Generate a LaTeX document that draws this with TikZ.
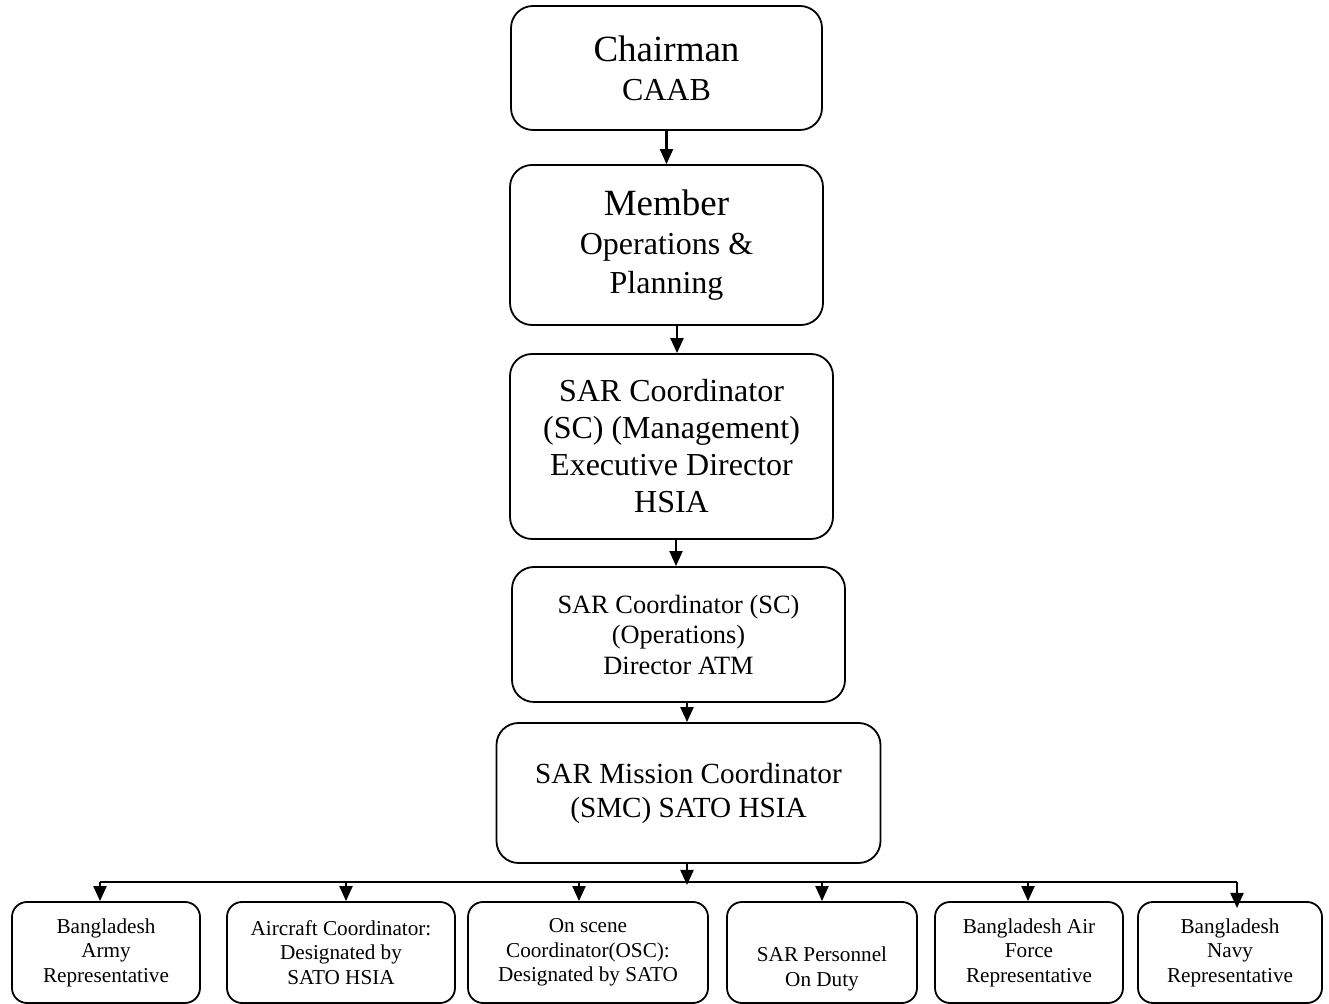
\documentclass[tikz,border=0pt]{standalone}
\usepackage{fontspec}
\setmainfont{Liberation Serif}
\usetikzlibrary{arrows.meta}
\usetikzlibrary{positioning}

\begin{document}
\begin{tikzpicture}[x=0.5pt, y=-0.5pt,
box/.style={draw, line width=0.9pt, rounded corners=11pt, align=center, inner sep=0pt},
lowbox/.style={box, rounded corners=7.5pt, minimum height=50.5pt, font=\fontsize{10.6}{12.25}\selectfont},
arr/.style={line width=1.1pt, -{Triangle[width=6.5pt, length=7.5pt]}}]
\useasboundingbox (0,0) rectangle (1329,1004);
\node[box, minimum width=155.5pt, minimum height=62pt, font=\fontsize{16}{19.5}\selectfont] (chair) at (666.5,68)
{{\fontsize{18.5}{19.5}\selectfont Chairman}\\CAAB};
\node[box, minimum width=156.5pt, minimum height=80pt, font=\fontsize{16}{19.5}\selectfont] (member) at (666.5,245)
{{\fontsize{18.5}{19.5}\selectfont Member}\\Operations \&\\Planning};
\node[box, minimum width=161.5pt, minimum height=92.5pt, font=\fontsize{16}{18.5}\selectfont] (mgmt) at (671.5,446.5)
{SAR Coordinator\\(SC) (Management)\\Executive Director\\HSIA};
\node[box, minimum width=166.5pt, minimum height=67.5pt, font=\fontsize{13.2}{15.25}\selectfont] (ops) at (678.5,634.5)
{SAR Coordinator (SC)\\(Operations)\\Director ATM};
\node[box, minimum width=192pt, minimum height=70pt, font=\fontsize{14.6}{17}\selectfont] (smc) at (688.5,793)
{SAR Mission Coordinator\\(SMC) SATO HSIA};
\node[lowbox, minimum width=94pt] (army) at (106,952.5) {Bangladesh\\Army\\Representative};
\node[lowbox, minimum width=114pt] (aircraft) at (341,952.5) {Aircraft Coordinator:\\Designated by\\SATO HSIA};
\node[lowbox, minimum width=120pt] (onscene) at (588,952.5) {On scene\\Coordinator(OSC):\\Designated by SATO};
\node[lowbox, minimum width=95pt] (personnel) at (822,952.5) {};
\node[font=\fontsize{10.6}{12.25}\selectfont, align=center, inner sep=0pt] (personnel-text) at (822,969) {SAR Personnel\\On Duty};
\node[lowbox, minimum width=94pt] (airforce) at (1029,952.5) {Bangladesh Air\\Force\\Representative};
\node[lowbox, minimum width=92pt] (navy) at (1230,952.5) {Bangladesh\\Navy\\Representative};
\draw[arr] (chair.south) -- (member.north);
\draw[arr] ([xshift=5.25pt]member.south) -- ([xshift=5.25pt]member.south |- mgmt.north);
\draw[arr] ([xshift=2.25pt]mgmt.south) -- ([xshift=2.25pt]mgmt.south |- ops.north);
\draw[arr] ([xshift=4.25pt]ops.south) -- ([xshift=4.25pt]ops.south |- smc.north);
\coordinate (bus-in) at (687,885);
\draw[arr] (smc.south -| bus-in) -- (bus-in);
\foreach \x/\b in {100/army, 346/aircraft, 579/onscene, 822/personnel, 1028/airforce}{
\coordinate (top-\b) at (\x,882);
\draw[arr] (top-\b) -- (top-\b |- \b.north);}
\coordinate (top-navy) at (1237,882);
\coordinate (navy-in) at (1237,908);
\draw[line width=1.1pt] (top-army) -- (top-navy);
\draw[arr] (top-navy) -- (navy-in);
\end{tikzpicture}
\end{document}
